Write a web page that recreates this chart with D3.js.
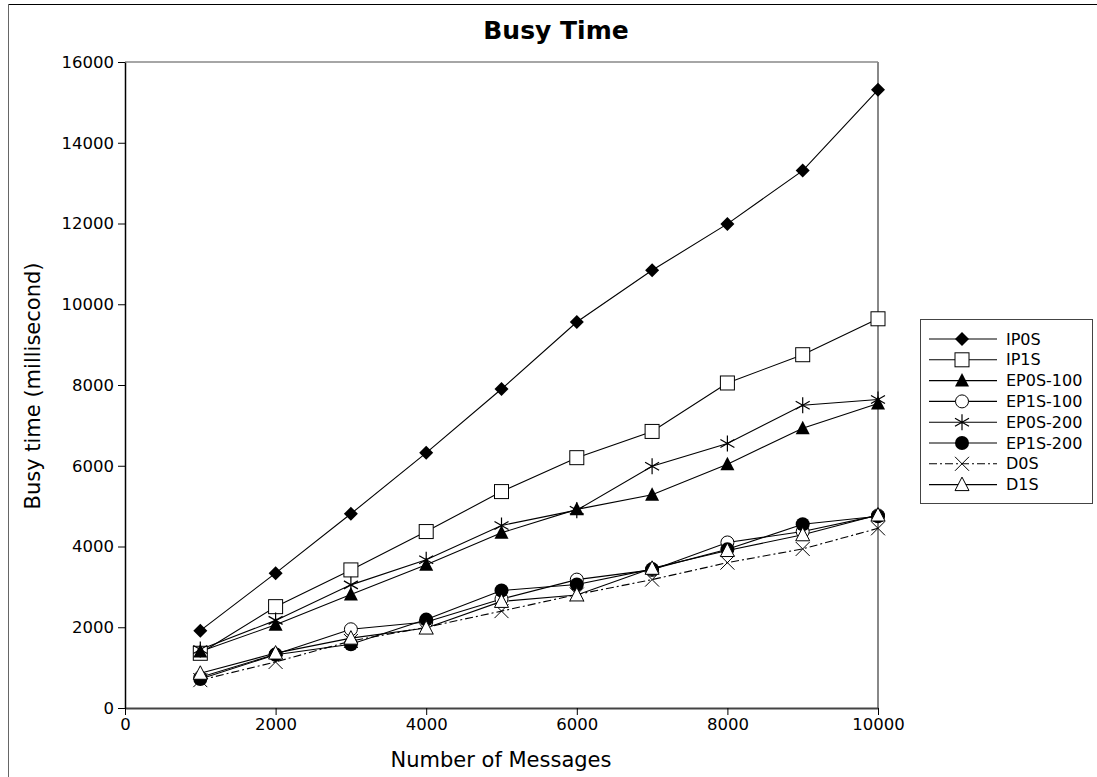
<!DOCTYPE html>
<html><head><meta charset="utf-8">
<script src="https://cdn.jsdelivr.net/npm/d3@7"></script>
<style>body{margin:0;background:#fff}svg{display:block;font-family:"DejaVu Sans",sans-serif}</style>
</head><body><svg id="c" width="1097" height="777"></svg>
<script>
const xValues = [1000,2000,3000,4000,5000,6000,7000,8000,9000,10000];
const seriesNames = ["IP0S","IP1S","EP0S-100","EP1S-100","EP0S-200","EP1S-200","D0S","D1S"];
const IP0S    = [1915,3340,4810,6320,7900,9560,10840,11990,13310,15310];
const IP1S    = [1355,2510,3420,4370,5360,6200,6850,8050,8750,9640];
const EP0S100 = [1400,2060,2810,3550,4340,4920,5280,6040,6930,7540];
const EP1S100 = [760,1330,1950,2130,2700,3180,3420,4100,4370,4770];
const EP0S200 = [1450,2170,3050,3670,4520,4900,5990,6550,7500,7640];
const EP1S200 = [720,1320,1580,2190,2910,3060,3440,3930,4550,4750];
const D0S     = [690,1140,1660,2000,2400,2810,3180,3600,3940,4450];
const D1S     = [860,1360,1730,1980,2640,2800,3460,3900,4290,4780];
const seriesValues = [IP0S,IP1S,EP0S100,EP1S100,EP0S200,EP1S200,D0S,D1S];
const markerTypes = ["diamond","square","triangleFill","circleOpen","asterisk","circleFill","cross","triangleOpen"];
const xTicks = [0,2000,4000,6000,8000,10000];
const yTicks = [0,2000,4000,6000,8000,10000,12000,14000,16000];

const svg = d3.select("#c");
const L=125,R=878,T=62,B=708;
const x = d3.scaleLinear().domain([0,10000]).range([L,R]);
const y = d3.scaleLinear().domain([0,16000]).range([B,T]);

// outer frame
svg.append("line").attr("x1",8).attr("x2",1097).attr("y1",4.5).attr("y2",4.5).attr("stroke","#000");
svg.append("line").attr("x1",8.5).attr("x2",8.5).attr("y1",4).attr("y2",777).attr("stroke","#666");

// plot border (top/right gray)
svg.append("line").attr("x1",L).attr("x2",R).attr("y1",T).attr("y2",T).attr("stroke","#888").attr("stroke-width",1.5);
svg.append("line").attr("x1",R).attr("x2",R).attr("y1",T).attr("y2",B).attr("stroke","#888").attr("stroke-width",2);

const xa = svg.append("g").attr("transform",`translate(0,${B})`)
  .call(d3.axisBottom(x).tickValues(xTicks).tickSize(7).tickSizeOuter(0).tickPadding(3).tickFormat(d3.format("d")));
const ya = svg.append("g").attr("transform",`translate(${L},0)`)
  .call(d3.axisLeft(y).tickValues(yTicks).tickSize(7).tickSizeOuter(0).tickPadding(4).tickFormat(d3.format("d")));
[xa,ya].forEach(a=>{a.selectAll("text").attr("font-size",16.5).attr("fill","#000").attr("font-family","DejaVu Sans");
  a.selectAll("line").attr("stroke","#000");a.select(".domain").attr("stroke","#000").attr("stroke-width",1.5);});
xa.select(".domain").attr("stroke","#444").attr("stroke-width",2);

// title & labels
svg.append("text").attr("x",556).attr("y",39).attr("text-anchor","middle").attr("font-size",25).attr("font-weight","bold").text("Busy Time");
svg.append("text").attr("x",501).attr("y",767).attr("text-anchor","middle").attr("font-size",21).text("Number of Messages");
svg.append("text").attr("transform","translate(40,386) rotate(-90)").attr("text-anchor","middle").attr("font-size",21).text("Busy time (millisecond)");

function drawMarker(g,type,cx,cy){
  const s=g.append("g").attr("transform",`translate(${cx},${cy})`);
  switch(type){
    case "diamond": s.append("path").attr("d","M0,-7L7,0L0,7L-7,0Z").attr("fill","#000"); break;
    case "square": s.append("rect").attr("x",-7).attr("y",-7).attr("width",14).attr("height",14).attr("fill","#fff").attr("stroke","#000"); break;
    case "triangleFill": s.append("path").attr("d","M0,-7.5L7,6L-7,6Z").attr("fill","#000"); break;
    case "triangleOpen": s.append("path").attr("d","M0,-7.5L7,6L-7,6Z").attr("fill","#fff").attr("stroke","#000"); break;
    case "circleOpen": s.append("circle").attr("r",6.5).attr("fill","#fff").attr("stroke","#000"); break;
    case "circleFill": s.append("circle").attr("r",7).attr("fill","#000"); break;
    case "asterisk": s.append("path").attr("d","M0,-8V8M-7,-4L7,4M-7,4L7,-4").attr("stroke","#000").attr("stroke-width",1.2); break;
    case "cross": s.append("path").attr("d","M-7,-7L7,7M-7,7L7,-7").attr("stroke","#000").attr("stroke-width",1); break;
  }
}

const line = d3.line().x((d,i)=>x(xValues[i])).y(d=>y(d));
seriesValues.forEach((vals,k)=>{
  const g=svg.append("g");
  g.append("path").attr("d",line(vals)).attr("fill","none").attr("stroke","#000").attr("stroke-width",1.1)
   .attr("stroke-dasharray",seriesNames[k]==="D0S"?"8,3,2,3":null);
});
seriesValues.forEach((vals,k)=>{
  const g=svg.append("g");
  vals.forEach((v,i)=>drawMarker(g,markerTypes[k],x(xValues[i]),y(v)));
});

// legend
const lg=svg.append("g");
lg.append("rect").attr("x",920.5).attr("y",319.5).attr("width",172).attr("height",184).attr("fill","#fff").attr("stroke","#444");
seriesNames.forEach((n,k)=>{
  const yy=339+k*20.8;
  lg.append("line").attr("x1",929).attr("x2",997).attr("y1",yy).attr("y2",yy).attr("stroke","#000").attr("stroke-width",1.1)
    .attr("stroke-dasharray",n==="D0S"?"8,3,2,3":null);
  drawMarker(lg,markerTypes[k],962,yy);
  lg.append("text").attr("x",1006).attr("y",yy+5.5).attr("font-size",16).text(n);
});
</script></body></html>
